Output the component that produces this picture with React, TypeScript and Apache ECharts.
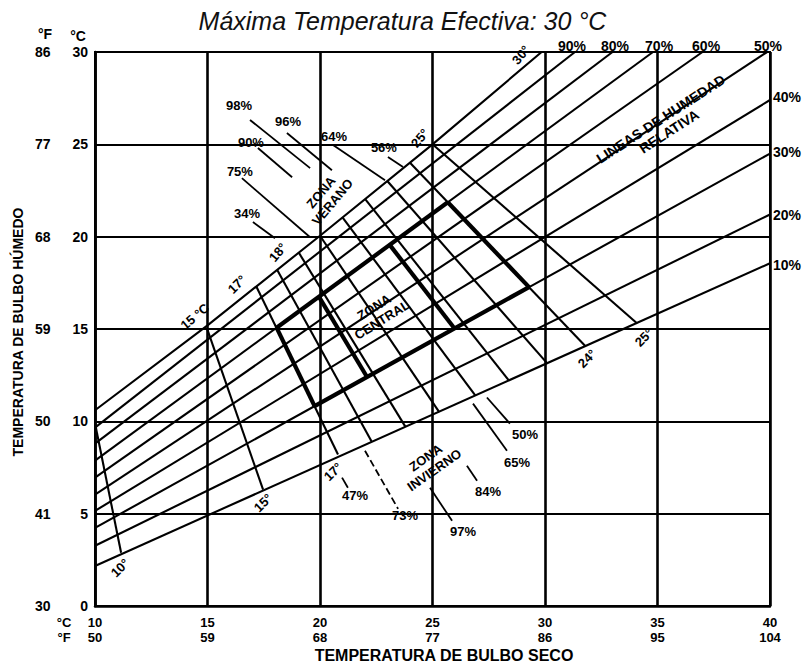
import React, { useEffect, useRef } from 'react';
import * as echarts from 'echarts';

const FONT = '"Liberation Sans", Arial, Helvetica, sans-serif';

// Axis ticks (°C) and their °F equivalents as printed
const xTicksC = [10, 15, 20, 25, 30, 35, 40];
const xTicksF = ['50', '59', '68', '77', '86', '95', '104'];
const yTicksC = [0, 5, 10, 15, 20, 25, 30];
const yTicksF = ['30', '41', '50', '59', '68', '77', '86'];

// Relative humidity lines: [dry bulb °C, wet bulb °C]
const rh100 = [[10, 10.6], [15, 15.2], [20, 20.05], [25, 25], [29.85, 30]];
const rh90 = [[10, 9.66], [31.33, 30]];
const rh80 = [[10, 8.79], [33.0, 30]];
const rh70 = [[10, 7.87], [34.8, 30]];
const rh60 = [[10, 6.95], [37.0, 30]];
const rh50 = [[10, 6.03], [39.87, 30]];
const rh40 = [[10, 5.15], [40, 27.4]];
const rh30 = [[10, 4.23], [40, 24.5]];
const rh20 = [[10, 3.26], [40, 21.2]];
const rh10 = [[10, 2.17], [40, 18.56]];
const rhLines = [rh100, rh90, rh80, rh70, rh60, rh50, rh40, rh30, rh20, rh10];

// Effective temperature lines (°C ET): top point and bottom point
const etValues = [10, 15, 17, 18, 19, 20, 21, 22, 23, 24, 25];
const etTop = [[10, 9.9], [15, 14.95], [17.17, 17.3], [18.1, 18.2], [19.05, 19.15], [20, 20.05], [21, 21.05], [22, 22.05], [23, 23.0], [24, 24.0], [25, 25]];
const etBottom = [[11.16, 2.88], [17.47, 6.3], [20.8, 8.2], [22.3, 8.9], [23.8, 9.7], [25.3, 10.5], [26.9, 11.4], [28.4, 12.2], [30.1, 13.14], [31.8, 14.07], [34.1, 15.3]];

// Comfort zone boundaries (bold): RH 70 % / RH 30 % edges and ET 17, 18.8, 21.7, 24 edges
const zoneRH70 = [[18.07, 15.07], [25.68, 21.86]];
const zoneRH30 = [[19.76, 10.82], [29.29, 17.27]];
const zoneET17 = [[18.07, 15.07], [19.76, 10.82]];
const zoneET188 = [[19.95, 16.75], [22.09, 12.4]];
const zoneET217 = [[23.09, 19.57], [25.98, 15.03]];
const zoneET24 = [[25.68, 21.86], [29.29, 17.27]];
const zoneEdges = [zoneRH70, zoneRH30, zoneET17, zoneET188, zoneET217, zoneET24];

// Summer zone: % comfortable, label position and leader
const summerPct = ['98%', '96%', '90%', '75%', '34%', '64%', '56%'];
const summerLabelAt = [[16.4, 27.08], [18.58, 26.26], [16.93, 25.12], [16.44, 23.55], [16.76, 21.27], [20.62, 25.45], [22.84, 24.85]];
const summerLeaders = [
  [[16.89, 26.32], [19.56, 23.71]],
  [[18.53, 25.61], [20.53, 23.6]],
  [[17.24, 24.8], [18.76, 23.22]],
  [[16.53, 23.17], [19.56, 19.97]],
  [[17.02, 20.79], [18.0, 19.91]],
  [[20.58, 24.96], [22.89, 23.06]],
  [[23.02, 24.31], [23.69, 23.77]],
];

// Winter zone: % comfortable, label position and leader
const winterPct = ['47%', '73%', '97%', '84%', '65%', '50%'];
const winterLabelAt = [[21.56, 5.97], [23.78, 4.88], [26.36, 4.02], [27.47, 6.19], [28.76, 7.76], [29.11, 9.28]];
const winterLeaders = [
  [[20.98, 6.95], [21.24, 6.4]],
  [[22.0, 8.41], [23.47, 5.26]],
  [[24.89, 6.4], [25.87, 4.61]],
  [[26.53, 7.6], [26.98, 6.78]],
  [[26.8, 10.96], [28.31, 8.41]],
  [[27.42, 11.29], [28.44, 9.88]],
];
const winterDashed = [false, true, false, false, false, false];

// Rotated annotations: text, anchor [dry, wet], rotation (deg)
const etLabels = [
  { text: '10°', at: [11.11, 2.06], rot: 45 },
  { text: '15°', at: [17.47, 5.59], rot: 45 },
  { text: '17°', at: [20.58, 7.27], rot: 45 },
  { text: '24°', at: [31.87, 13.4], rot: 45 },
  { text: '25°', at: [34.4, 14.54], rot: 45 },
  { text: '15 °C', at: [14.44, 15.68], rot: 40 },
  { text: '17°', at: [16.31, 17.42], rot: 45 },
  { text: '18°', at: [18.13, 19.15], rot: 50 },
  { text: '25°', at: [24.44, 25.34], rot: 50 },
  { text: '30°', at: [28.93, 29.84], rot: 50 },
];
const zoneLabels = [
  { text: 'ZONA\nVERANO', at: [20.3, 22.14], rot: 50 },
  { text: 'ZONA\nCENTRAL', at: [22.58, 15.84], rot: 32 },
  { text: 'ZONA\nINVIERNO', at: [24.89, 7.7], rot: 35 },
  { text: 'LINEAS DE HUMEDAD\nRELATIVA', at: [35.33, 26.04], rot: 33 },
];
const rhTopLabels = [
  { text: '90%', at: [31.2, 30.33] },
  { text: '80%', at: [33.11, 30.33] },
  { text: '70%', at: [35.07, 30.33] },
  { text: '60%', at: [37.16, 30.33] },
  { text: '50%', at: [39.91, 30.33] },
];
const rhRightLabels = [
  { text: '40%', at: [40.13, 27.56] },
  { text: '30%', at: [40.13, 24.58] },
  { text: '20%', at: [40.13, 21.16] },
  { text: '10%', at: [40.13, 18.45] },
];

const lineSeries = (pts: number[][], width: number, type: string = 'solid') => ({
  type: 'line',
  data: pts,
  showSymbol: false,
  symbol: 'none',
  silent: true,
  animation: false,
  lineStyle: { color: '#000', width, type },
  z: 3,
});

export default function App() {
  const ref = useRef<HTMLDivElement>(null);
  useEffect(() => {
    document.body.style.margin = '0';
    const chart = echarts.init(ref.current as HTMLDivElement, null, { renderer: 'svg' });
    const series: any[] = [];
    rhLines.forEach((pts) => series.push(lineSeries(pts, 2.1)));
    etValues.forEach((_, i) => series.push(lineSeries([etTop[i], etBottom[i]], 2.1)));
    zoneEdges.forEach((pts) => series.push(lineSeries(pts, 4.2)));
    summerLeaders.forEach((l) => series.push(lineSeries(l, 1.8)));
    winterLeaders.forEach((l, i) => series.push(lineSeries(l, 1.8, winterDashed[i] ? 'dashed' : 'solid')));

    const labelRich = { fontFamily: FONT, fontWeight: 'bold', fontSize: 14, color: '#000', lineHeight: 15 };
    const xRich = { fontFamily: FONT, fontWeight: 'bold', fontSize: 13, color: '#000', lineHeight: 15 };
    chart.setOption({
      animation: false,
      backgroundColor: '#fff',
      title: {
        text: 'Máxima Temperatura Efectiva: 30 °C',
        left: 'center',
        top: 3,
        textStyle: { fontFamily: FONT, fontStyle: 'italic', fontWeight: 'normal', fontSize: 25, color: '#111' },
      },
      grid: { left: 95, right: 35, top: 52, bottom: 58, show: true, borderColor: '#000', borderWidth: 2, backgroundColor: 'transparent' },
      xAxis: {
        type: 'value', min: 10, max: 40, interval: 5,
        axisLine: { show: true, lineStyle: { color: '#000', width: 2.5 } },
        axisTick: { show: false },
        splitLine: { show: true, lineStyle: { color: '#000', width: 2.6 } },
        axisLabel: {
          margin: 9,
          formatter: (v: number) => `{c|${v}}\n{f|${xTicksF[xTicksC.indexOf(v)]}}`,
          rich: { c: xRich, f: xRich },
        },
      },
      yAxis: {
        type: 'value', min: 0, max: 30, interval: 5,
        axisLine: { show: true, lineStyle: { color: '#000', width: 2.5 } },
        axisTick: { show: false },
        splitLine: { show: true, lineStyle: { color: '#000', width: 1.8 } },
        axisLabel: {
          margin: 7,
          formatter: (v: number) => `{f|${yTicksF[yTicksC.indexOf(v)]}}{c|${v}}`,
          rich: { f: { ...labelRich, width: 33, align: 'left' }, c: { ...labelRich, width: 20, align: 'right' } },
        },
      },
      series,
    });

    const px = (p: number[]) => chart.convertToPixel({ gridIndex: 0 }, p) as number[];
    const txt = (text: string, x: number, y: number, opts: any = {}) => ({
      type: 'text',
      x, y,
      rotation: ((opts.rot || 0) * Math.PI) / 180,
      z: 10,
      silent: true,
      style: {
        text,
        fill: '#000',
        fontFamily: FONT,
        fontWeight: opts.weight || 'bold',
        fontStyle: opts.style || 'normal',
        fontSize: opts.size || 13,
        lineHeight: opts.lh || 14,
        align: opts.align || 'center',
        verticalAlign: 'middle',
      },
    });
    const graphics: any[] = [];
    // axis headers and titles
    graphics.push(txt('°F', 45, 34, { size: 14 }));
    graphics.push(txt('°C', 78, 36, { size: 14 }));
    graphics.push(txt('°C', 64, 622, { size: 13 }));
    graphics.push(txt('°F', 64, 637, { size: 13 }));
    graphics.push(txt('TEMPERATURA DE BULBO HÚMEDO', 18, 332, { size: 14, rot: 90 }));
    graphics.push(txt('TEMPERATURA DE BULBO SECO', 444, 655, { size: 16 }));
    rhTopLabels.forEach((l) => { const p = px(l.at); graphics.push(txt(l.text, p[0], p[1], { size: 14 })); });
    rhRightLabels.forEach((l) => { const p = px(l.at); graphics.push(txt(l.text, p[0], p[1], { size: 14, align: 'left' })); });
    etLabels.forEach((l) => { const p = px(l.at); graphics.push(txt(l.text, p[0], p[1], { size: 13, rot: l.rot })); });
    zoneLabels.forEach((l, i) => { const p = px(l.at); graphics.push(txt(l.text, p[0], p[1], { size: i === 3 ? 14 : 13, lh: 15, rot: l.rot })); });
    summerPct.forEach((t, i) => { const p = px(summerLabelAt[i]); graphics.push(txt(t, p[0], p[1], { size: 13 })); });
    winterPct.forEach((t, i) => { const p = px(winterLabelAt[i]); graphics.push(txt(t, p[0], p[1], { size: 13 })); });
    chart.setOption({ graphic: graphics });

    return () => chart.dispose();
  }, []);
  return <div ref={ref} style={{ width: 805, height: 664, background: '#fff' }} />;
}
